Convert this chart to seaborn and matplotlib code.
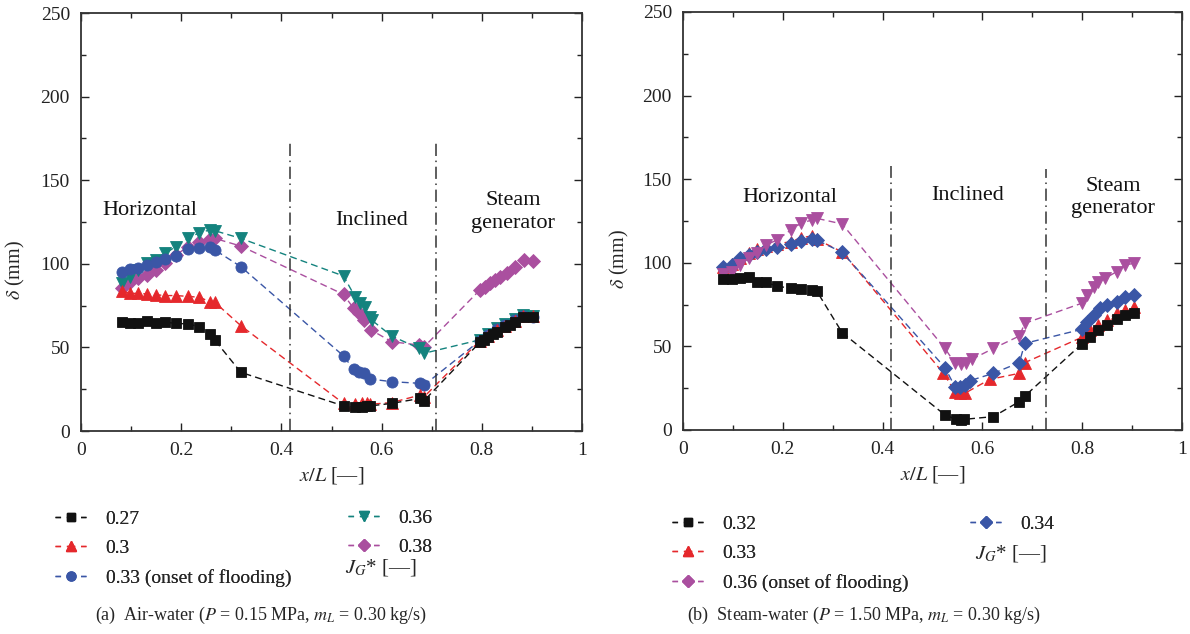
import matplotlib
matplotlib.use("Agg")
import matplotlib.pyplot as plt
from matplotlib.lines import Line2D
from matplotlib.ticker import MultipleLocator
import seaborn as sns
import pandas as pd

# ---------------- (a) air-water, liquid film thickness along the pipe ----------------
a_x_027 = [0.081, 0.098, 0.114, 0.131, 0.150, 0.168, 0.189, 0.214, 0.236, 0.257, 0.267, 0.319,
           0.524, 0.547, 0.560, 0.570, 0.577, 0.620, 0.677, 0.685,
           0.796, 0.805, 0.813, 0.822, 0.830, 0.846, 0.856, 0.866, 0.883, 0.903]
a_y_027 = [65.4, 64.8, 64.8, 65.8, 64.8, 65.0, 64.4, 64.0, 62.4, 58.0, 54.4, 35.1,
           15.0, 14.2, 14.2, 14.8, 15.0, 16.5, 19.5, 18.2,
           53.0, 54.5, 56.4, 58.0, 59.4, 62.4, 63.5, 65.4, 68.0, 68.0]

a_x_030 = [0.081, 0.098, 0.114, 0.131, 0.150, 0.168, 0.189, 0.214, 0.236, 0.257, 0.267, 0.319,
           0.524, 0.547, 0.560, 0.570, 0.577, 0.620, 0.677, 0.685,
           0.796, 0.813, 0.830, 0.846, 0.866, 0.883, 0.903]
a_y_030 = [84.0, 82.3, 82.3, 82.0, 81.5, 81.0, 81.0, 80.5, 80.0, 77.4, 77.0, 63.0,
           16.5, 16.0, 16.5, 16.5, 16.0, 17.0, 21.5, 20.5,
           54.0, 57.0, 60.5, 63.0, 66.0, 68.5, 68.5]

a_x_033 = [0.081, 0.098, 0.114, 0.131, 0.150, 0.168, 0.189, 0.214, 0.236, 0.257, 0.267, 0.319,
           0.524, 0.544, 0.554, 0.564, 0.577, 0.620, 0.677, 0.685,
           0.796, 0.813, 0.830, 0.846, 0.866, 0.883, 0.903]
a_y_033 = [94.9, 96.7, 97.3, 99.3, 101.3, 102.9, 104.7, 108.9, 109.7, 109.8, 108.3, 98.3,
           44.9, 36.9, 35.5, 34.5, 31.1, 29.5, 28.5, 27.5,
           54.0, 57.5, 61.0, 63.5, 66.5, 68.5, 68.0]

a_x_036 = [0.081, 0.098, 0.114, 0.131, 0.150, 0.168, 0.189, 0.214, 0.236, 0.257, 0.267, 0.319,
           0.524, 0.547, 0.557, 0.567, 0.576, 0.580, 0.620, 0.675, 0.685,
           0.796, 0.813, 0.830, 0.846, 0.866, 0.883, 0.903]
a_y_036 = [88.3, 92.3, 96.3, 100.3, 102.3, 106.3, 110.2, 115.2, 118.6, 120.2, 119.8, 115.2,
           92.7, 80.3, 76.4, 74.4, 68.0, 66.4, 56.8, 49.4, 46.5,
           54.5, 58.0, 61.5, 64.0, 67.0, 69.5, 69.0]

a_x_038 = [0.081, 0.098, 0.114, 0.131, 0.150, 0.168, 0.189, 0.214, 0.236, 0.257, 0.267, 0.319,
           0.524, 0.544, 0.554, 0.564, 0.579, 0.620, 0.675, 0.685,
           0.796, 0.806, 0.816, 0.826, 0.836, 0.850, 0.866, 0.885, 0.903]
a_y_038 = [85.3, 89.3, 91.3, 93.3, 96.3, 100.3, 105.3, 110.2, 113.2, 114.6, 115.2, 110.6,
           81.7, 73.4, 70.4, 66.4, 60.4, 53.4, 51.4, 50.4,
           84.3, 86.3, 88.3, 90.3, 92.3, 94.3, 97.9, 102.3, 101.9]

# ---------------- (b) steam-water ----------------
b_x_032 = [0.081, 0.098, 0.114, 0.132, 0.149, 0.166, 0.188, 0.216, 0.236, 0.258, 0.268, 0.319,
           0.525, 0.547, 0.558, 0.564, 0.622, 0.674, 0.685,
           0.799, 0.816, 0.832, 0.849, 0.869, 0.886, 0.904]
b_y_032 = [90.1, 90.1, 91.1, 91.3, 88.7, 88.3, 86.1, 84.7, 84.3, 83.7, 83.1, 58.2,
           9.0, 6.4, 6.0, 6.4, 8.0, 17.0, 20.3,
           51.4, 55.8, 59.8, 62.8, 66.4, 68.8, 69.8]

b_x_033 = [0.081, 0.098, 0.114, 0.132, 0.149, 0.166, 0.188, 0.216, 0.236, 0.258, 0.268, 0.319,
           0.522, 0.545, 0.555, 0.565, 0.615, 0.674, 0.685,
           0.799, 0.816, 0.832, 0.849, 0.869, 0.886, 0.904]
b_y_033 = [97.5, 99.5, 103.0, 106.0, 108.5, 110.0, 111.5, 112.5, 115.0, 116.0, 114.0, 106.5,
           33.9, 22.9, 21.9, 22.0, 30.3, 33.9, 40.3,
           55.4, 59.8, 62.8, 65.8, 69.8, 71.8, 73.8]

b_x_034 = [0.081, 0.098, 0.114, 0.132, 0.149, 0.166, 0.188, 0.216, 0.236, 0.258, 0.268, 0.319,
           0.525, 0.545, 0.555, 0.565, 0.575, 0.622, 0.674, 0.685,
           0.799, 0.809, 0.823, 0.836, 0.849, 0.869, 0.886, 0.904]
b_y_034 = [97.7, 98.7, 102.7, 104.7, 106.6, 108.0, 109.3, 111.0, 113.0, 114.0, 113.6, 106.3,
           37.3, 25.9, 25.5, 26.9, 29.5, 33.9, 40.3, 51.8,
           60.2, 64.8, 68.8, 72.8, 74.8, 76.8, 79.8, 80.7]

b_x_036 = [0.081, 0.098, 0.114, 0.132, 0.149, 0.166, 0.188, 0.216, 0.236, 0.258, 0.268, 0.319,
           0.525, 0.545, 0.558, 0.567, 0.579, 0.622, 0.674, 0.685,
           0.799, 0.809, 0.823, 0.832, 0.846, 0.869, 0.886, 0.904]
b_y_036 = [93.3, 94.7, 98.7, 102.7, 105.7, 110.6, 113.6, 119.6, 123.6, 125.6, 126.6, 123.2,
           48.8, 39.9, 39.5, 39.9, 42.3, 48.8, 56.2, 63.8,
           75.8, 80.7, 85.7, 88.7, 90.7, 94.7, 98.7, 99.7]

a_labels = ["0.27", "0.3", "0.33 (onset of flooding)", "0.36", "0.38"]
b_labels = ["0.32", "0.33", "0.36 (onset of flooding)", "0.34"]

BLACK = "#111111"
RED = "#e5282c"
BLUE = "#3a56a6"
TEAL = "#14837e"
MAGENTA = "#aa4f9f"

sns.set_theme(style="ticks")
plt.rcParams["font.family"] = ["Liberation Serif", "DejaVu Serif"]
plt.rcParams["mathtext.fontset"] = "stix"

W, H = 1190, 634
fig = plt.figure(figsize=(W / 100, H / 100), dpi=100)
ax_a = fig.add_axes([81 / W, 1 - 431 / H, 501 / W, 418 / H])
ax_b = fig.add_axes([683 / W, 1 - 430 / H, 499 / W, 418 / H])


def draw_series(ax, xs, ys, color, marker, ms):
    df = pd.DataFrame({"x": xs, "y": ys})
    sns.lineplot(data=df, x="x", y="y", ax=ax, color=color, marker=marker,
                 markersize=ms, markeredgecolor=color, markeredgewidth=0.6,
                 linestyle=(0, (5, 3)), linewidth=1.0, estimator=None, sort=False)


# draw order: later series sit on top
draw_series(ax_a, a_x_038, a_y_038, MAGENTA, "D", 7)
draw_series(ax_a, a_x_036, a_y_036, TEAL, "v", 8.5)
draw_series(ax_a, a_x_033, a_y_033, BLUE, "o", 8)
draw_series(ax_a, a_x_030, a_y_030, RED, "^", 8.5)
draw_series(ax_a, a_x_027, a_y_027, BLACK, "s", 7)

draw_series(ax_b, b_x_033, b_y_033, RED, "^", 8.5)
draw_series(ax_b, b_x_034, b_y_034, BLUE, "D", 7.5)
draw_series(ax_b, b_x_036, b_y_036, MAGENTA, "v", 9)
draw_series(ax_b, b_x_032, b_y_032, BLACK, "s", 7)

for ax in (ax_a, ax_b):
    ax.set_xlim(0, 1)
    ax.set_ylim(0, 250)
    ax.xaxis.set_major_locator(MultipleLocator(0.2))
    ax.xaxis.set_minor_locator(MultipleLocator(0.1))
    ax.yaxis.set_major_locator(MultipleLocator(50))
    ax.yaxis.set_minor_locator(MultipleLocator(25))
    ax.set_xticks([0, 0.2, 0.4, 0.6, 0.8, 1.0])
    ax.set_xticklabels(["0", "0.2", "0.4", "0.6", "0.8", "1"])
    ax.tick_params(which="both", direction="in", top=True, right=True,
                   labelsize=14, colors="#222222", width=1.0)
    ax.tick_params(which="major", length=6, pad=8)
    ax.tick_params(which="minor", length=3.5)
    for sp in ax.spines.values():
        sp.set_linewidth(1.3)
        sp.set_color("#333333")
    ax.set_xlabel("$x/L$ [—]", fontsize=14.5, labelpad=4)
    ax.set_ylabel("$\\delta$ (mm)", fontsize=14.5)
    ax.set_facecolor("white")

ax_a.yaxis.set_label_coords(-0.108, 0.385)
ax_b.yaxis.set_label_coords(-0.105, 0.41)

# section boundaries
sep = dict(color="#333333", lw=1.1, ls=(0, (8, 3, 1, 3)))
ax_a.plot([0.417, 0.417], [0, 172], **sep)
ax_a.plot([0.709, 0.709], [0, 172], **sep)
ax_b.plot([0.416, 0.416], [0, 158], **sep)
ax_b.plot([0.727, 0.727], [0, 156], **sep)

region_kw = dict(fontsize=16, ha="center", va="center", color="#111111", linespacing=1.25)
ax_a.text(0.138, 132, "Horizontal", **region_kw)
ax_a.text(0.581, 126, "Inclined", **region_kw)
ax_a.text(0.862, 131, "Steam\ngenerator", **region_kw)
ax_b.text(0.214, 139, "Horizontal", **region_kw)
ax_b.text(0.571, 140, "Inclined", **region_kw)
ax_b.text(0.862, 139, "Steam\ngenerator", **region_kw)


def handle(color, marker, ms):
    # short dash on each side of the marker
    return Line2D([], [], color=color, marker=marker, markersize=ms,
                  linestyle=(0, (4, 4.2, 6, 4.2)), linewidth=1.0)


leg_kw = dict(frameon=False, fontsize=14, handlelength=1.6, handletextpad=1.0,
              labelspacing=0.62, loc="upper left", borderpad=0, borderaxespad=0)


def column_legend(handles, labels, x_px, top_px):
    leg = fig.legend(handles, labels, bbox_to_anchor=(x_px / W, 1 - top_px / H), **leg_kw)
    fig.add_artist(leg)
    return leg


column_legend([handle(BLACK, "s", 6), handle(RED, "^", 7.5), handle(BLUE, "o", 6.5)],
              a_labels[:3], 55, 510)
column_legend([handle(TEAL, "v", 7.5), handle(MAGENTA, "D", 6)],
              a_labels[3:], 348, 509)
column_legend([handle(BLACK, "s", 6), handle(RED, "^", 7.5), handle(MAGENTA, "D", 6)],
              b_labels[:3], 672, 515)
column_legend([handle(BLUE, "D", 6)], b_labels[3:], 970, 515)

fig.text(345 / W, 1 - 568 / H, "$J_G$* [—]", fontsize=15, va="center", ha="left")
fig.text(975 / W, 1 - 553 / H, "$J_G$* [—]", fontsize=15, va="center", ha="left")

fig.text(261 / W, 1 - 615 / H,
         "(a)  Air-water ($P$ = 0.15 MPa, $m_L$ = 0.30 kg/s)",
         fontsize=13, ha="center", va="center")
fig.text(864 / W, 1 - 615 / H,
         "(b)  Steam-water ($P$ = 1.50 MPa, $m_L$ = 0.30 kg/s)",
         fontsize=13, ha="center", va="center")

fig.savefig("out.png", dpi=100, facecolor="white")
